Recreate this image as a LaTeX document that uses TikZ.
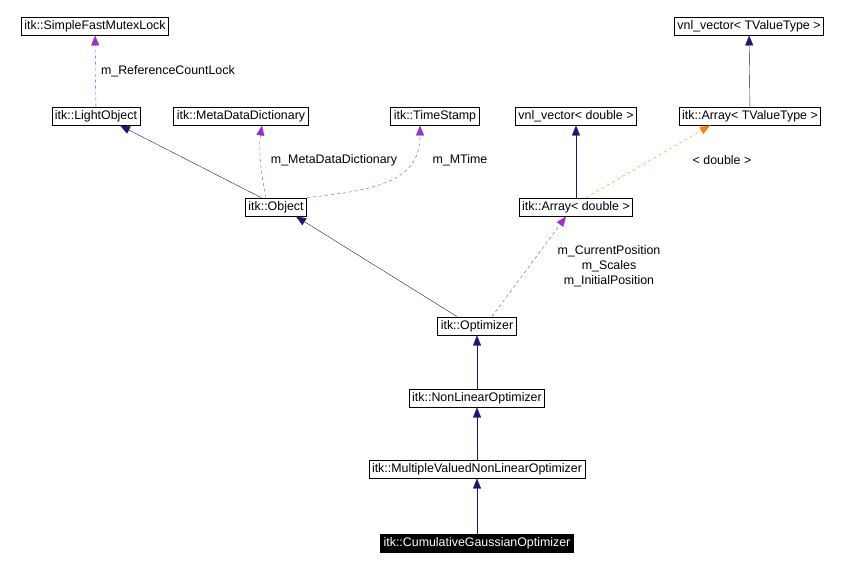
\documentclass[tikz,border=0pt]{standalone}
\usepackage{fontspec}
\setmainfont{Liberation Sans}
\usetikzlibrary{arrows.meta, positioning}

\tikzset{
  cls/.style={draw, line width=0.9pt, fill=white, inner xsep=3pt, inner ysep=0pt, minimum height=18pt, font=\fontsize{12.4}{14}\selectfont},
  cur/.style={cls, fill=black, text=white},
  inherit/.style={draw=navy, -{Triangle[width=8pt,length=10pt]}},
  member/.style={draw=mpurple, dashed, -{Triangle[width=8pt,length=10pt]}},
  tmpl/.style={draw=orange, dashed, -{Triangle[width=8pt,length=10pt]}},
  lbl/.style={font=\fontsize{12.4}{15}\selectfont, align=center}
}
\definecolor{navy}{RGB}{25,25,112}
\definecolor{mpurple}{RGB}{153,50,204}

\begin{document}
\begin{tikzpicture}[x=1pt, y=-1pt]
\useasboundingbox (0,0) rectangle (848,566);

% classes
\node[cls] (mutex) at (95,26) {itk::SimpleFastMutexLock};
\node[cls] (light) at (96,116) {itk::LightObject};
\node[cls] (meta) at (241,116) {itk::MetaDataDictionary};
\node[cls] (stamp) at (435,116) {itk::TimeStamp};
\node[cls] (vnld) at (576,116) {vnl\_vector< double >};
\node[cls] (arrt) at (750,116) {itk::Array< TValueType >};
\node[cls] (vnlt) at (749,26) {vnl\_vector< TValueType >};
\node[cls] (object) at (276,207) {itk::Object};
\node[cls] (arrd) at (576,207) {itk::Array< double >};
\node[cls] (optim) at (477,326) {itk::Optimizer};
\node[cls] (nonlin) at (477,398) {itk::NonLinearOptimizer};
\node[cls] (multi) at (477,469) {itk::MultipleValuedNonLinearOptimizer};
\node[cur] (cumul) at (477,543) {itk::CumulativeGaussianOptimizer};

% inheritance
\draw[inherit] ([xshift=-15pt]object.north) -- ([xshift=24pt]light.south);
\draw[inherit] ([xshift=-20pt]optim.north) -- ([xshift=20pt]object.south);
\draw[inherit] (arrd) -- (vnld);
\draw[inherit] (arrt) -- (vnlt);
\draw[inherit] (nonlin) -- (optim);
\draw[inherit] (multi) -- (nonlin);
\draw[inherit] (cumul) -- (multi);

% members
\draw[member] (light) -- node[lbl, right=2pt] {m\_ReferenceCountLock} (mutex);
\draw[member] ([xshift=-10pt]object.north) .. controls (262,180) and (258,150) .. ([xshift=21pt]meta.south);
\draw[member] (object.north east) .. controls (380,190) and (420,180) .. ([xshift=-15pt]stamp.south);
\draw[member] ([xshift=15pt]optim.north) -- ([xshift=-10pt]arrd.south);
\draw[tmpl] ([xshift=10pt]arrd.north) -- ([xshift=-40pt]arrt.south);

% labels
\node[lbl] (lmeta) at (334,160) {m\_MetaDataDictionary};
\node[lbl] (ltime) at (460,160) {m\_MTime};
\node[lbl] (ldbl) at (722,160) {< double >};
\node[lbl] (lpos) at (609,266) {m\_CurrentPosition\\m\_Scales\\m\_InitialPosition};
\end{tikzpicture}
\end{document}
